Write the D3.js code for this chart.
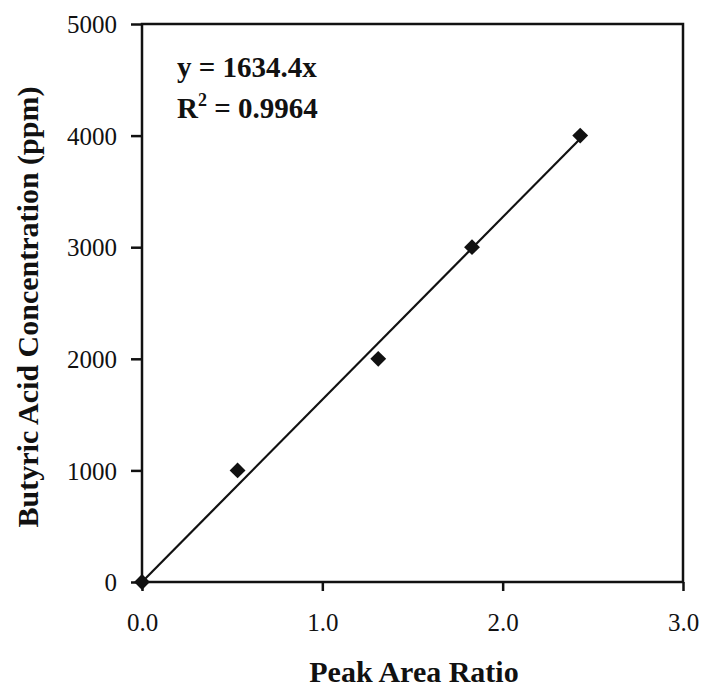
<!DOCTYPE html>
<html>
<head>
<meta charset="utf-8">
<script src="https://cdn.jsdelivr.net/npm/d3@7"></script>
<style>
  body { margin: 0; background: #fff; }
  svg text { font-family: "Liberation Serif", "Times New Roman", serif; fill: #111; }
</style>
</head>
<body>
<div id="chart"></div>
<script>
var ratio = [0, 0.53, 1.31, 1.83, 2.43];
var conc = [0, 1000, 2000, 3000, 4000];
var slope = 1634.4;
var xTicks = [0, 1, 2, 3];
var yTicks = [0, 1000, 2000, 3000, 4000, 5000];

var W = 704, H = 690;
var m = { left: 142, right: 21, top: 24, bottom: 108 };

var svg = d3.select("#chart").append("svg")
  .attr("width", W)
  .attr("height", H);

var x = d3.scaleLinear().domain([0, 3]).range([m.left, W - m.right]);
var y = d3.scaleLinear().domain([0, 5000]).range([H - m.bottom, m.top]);

// frame
svg.append("rect")
  .attr("x", x(0)).attr("y", y(5000))
  .attr("width", x(3) - x(0)).attr("height", y(0) - y(5000))
  .attr("fill", "none").attr("stroke", "#111").attr("stroke-width", 2.5);

var xAxis = svg.append("g")
  .attr("transform", "translate(0," + y(0) + ")")
  .call(d3.axisBottom(x).tickValues(xTicks).tickFormat(d3.format(".1f")).tickSize(9).tickPadding(22));
var yAxis = svg.append("g")
  .attr("transform", "translate(" + x(0) + ",0)")
  .call(d3.axisLeft(y).tickValues(yTicks).tickFormat(d3.format("d")).tickSize(11).tickPadding(14));

[xAxis, yAxis].forEach(function(a) {
  a.select(".domain").remove();
  a.selectAll("line").attr("stroke", "#111").attr("stroke-width", 2.5);
  a.selectAll("text").attr("font-size", 25).attr("font-family", "Liberation Serif").attr("fill", "#111");
});
yAxis.selectAll("text").attr("dy", "0.35em");

// trend line
svg.append("line")
  .attr("x1", x(0)).attr("y1", y(0))
  .attr("x2", x(ratio[ratio.length - 1])).attr("y2", y(slope * ratio[ratio.length - 1]))
  .attr("stroke", "#111").attr("stroke-width", 2.2);

// points
svg.selectAll(".pt")
  .data(ratio)
  .enter()
  .append("path")
  .attr("class", "pt")
  .attr("d", d3.symbol().type(d3.symbolDiamond2).size(160))
  .attr("transform", function(d, i) { return "translate(" + x(d) + "," + y(conc[i]) + ")"; })
  .attr("fill", "#111");

// equation
svg.append("text")
  .attr("x", 177).attr("y", 77)
  .attr("font-size", 29).attr("font-weight", "bold")
  .text("y = 1634.4x");
var r2 = svg.append("text")
  .attr("x", 177).attr("y", 118)
  .attr("font-size", 29).attr("font-weight", "bold");
r2.append("tspan").text("R");
r2.append("tspan").attr("font-size", 18).attr("dy", -12).text("2");
r2.append("tspan").attr("dy", 12).text(" = 0.9964");

// axis titles
svg.append("text")
  .attr("x", 414).attr("y", 682)
  .attr("text-anchor", "middle")
  .attr("font-size", 30).attr("font-weight", "bold")
  .text("Peak Area Ratio");
svg.append("text")
  .attr("transform", "translate(38,307) rotate(-90)")
  .attr("text-anchor", "middle")
  .attr("font-size", 30).attr("font-weight", "bold")
  .text("Butyric Acid Concentration (ppm)");
</script>
</body>
</html>
